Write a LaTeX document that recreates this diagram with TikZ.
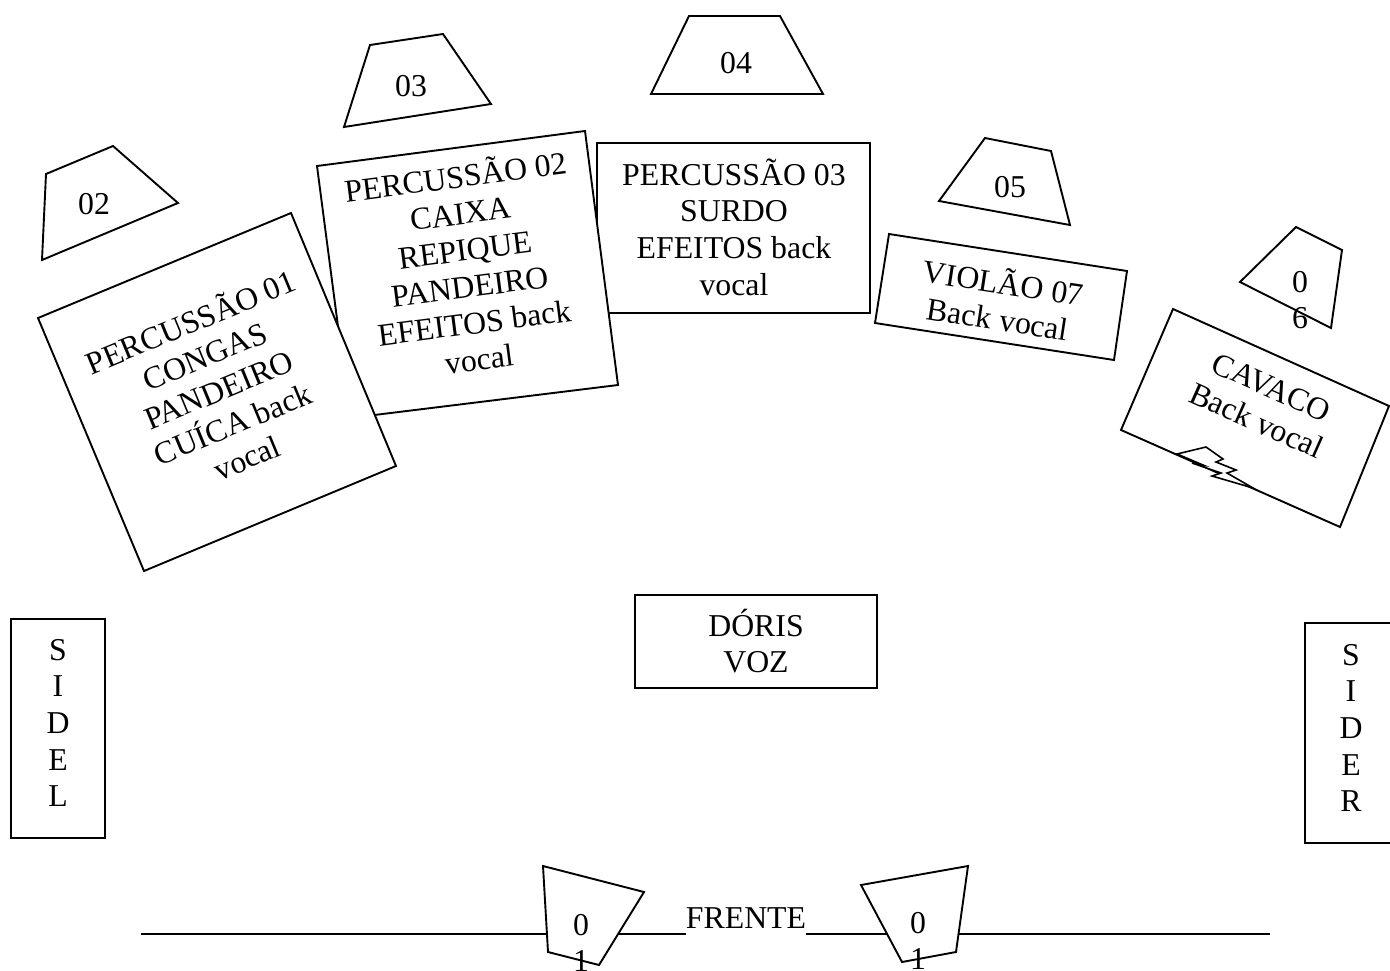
\documentclass[tikz,border=0pt]{standalone}
\usepackage{fontspec}
\setmainfont{Liberation Serif}
\tikzset{
  px/.style={x=1pt,y=-1pt},
  shp/.style={draw=black,fill=white,line width=1.9pt,line join=miter},
  lbl/.style={inner sep=0pt,align=center,text=black,font=\fontsize{31.8}{36.7}\selectfont},
  rule/.style={draw=black,line width=1.6pt}
}
\begin{document}
\begin{tikzpicture}[px]
\useasboundingbox (0,0) rectangle (1390,970);
% front line
\coordinate (la) at (141,934); \coordinate (lb) at (686,934);
\coordinate (lc) at (806,934); \coordinate (ld) at (1270,934);
\draw[rule] (la) -- (lb);
\draw[rule] (lc) -- (ld);
\node[lbl] (frente) at (746,918) {FRENTE};
% monitors
\draw[shp] (46,174) -- (113,146) -- (178,203) -- (42,260) -- cycle;
\node[lbl] (m02) at (94,204) {02};
\draw[shp] (370,45) -- (443,34) -- (491,104) -- (344,127) -- cycle;
\node[lbl] (m03) at (411,86) {03};
\draw[shp] (689,16) -- (780,16) -- (823,94) -- (651,94) -- cycle;
\node[lbl] (m04) at (736,63) {04};
\draw[shp] (985,138) -- (1051,151) -- (1070,225) -- (939,201) -- cycle;
\node[lbl] (m05) at (1010,187) {05};
\draw[shp] (1296,227) -- (1342,250) -- (1331,328) -- (1240,282) -- cycle;
\node[lbl] (m06) at (1300,300) {0\\6};
\draw[shp] (543,866) -- (644,892) -- (599,965) -- (548,952) -- cycle;
\node[lbl] (m01a) at (581,943) {0\\1};
\draw[shp] (861,885) -- (968,866) -- (956,952) -- (902,962) -- cycle;
\node[lbl] (m01b) at (918,941) {0\\1};
% player boxes
\draw[shp] (597,143) rectangle (870,313);
\node[lbl] (p3) at (734,227) {PERCUSSÃO 03\\SURDO\\EFEITOS back\\vocal};
\draw[shp] (317,166) -- (585,131) -- (618,385) -- (350,418) -- cycle;
\node[lbl,rotate=7.4] (p2) at (467,266) {PERCUSSÃO 02\\CAIXA\\REPIQUE\\PANDEIRO\\EFEITOS back\\vocal};
\draw[shp] (38,318) -- (291,213) -- (396,466) -- (144,571) -- cycle;
\node[lbl,rotate=22.5] (p1) at (218,388) {PERCUSSÃO 01\\CONGAS\\PANDEIRO\\CUÍCA back\\vocal};
\draw[shp] (889,234) -- (1127,271) -- (1114,360) -- (875,323) -- cycle;
\node[lbl,rotate=-8.8] (vi) at (1001,299) {VIOLÃO 07\\Back vocal};
\draw[shp] (1173,309) -- (1389,406) -- (1340,527) -- (1121,430) -- cycle;
\node[lbl,rotate=-24] (ca) at (1264,404) {CAVACO\\Back vocal};
% flash
\draw[shp,line width=1.6pt] (1177,454) -- (1206,447) -- (1223,459) -- (1216,462) -- (1236,470) -- (1227,473) -- (1253,488) -- (1212,476) -- (1221,473) -- (1192,463) -- (1203,465) -- cycle;
% voice
\draw[shp] (635,595) rectangle (877,688);
\node[lbl] (dv) at (756,641) {DÓRIS\\VOZ};
% side fills
\draw[shp] (11,619) rectangle (105,838);
\node[lbl] (sl) at (58,723) {S\\I\\D\\E\\L};
\draw[shp] (1305,623) rectangle (1400,843);
\node[lbl] (sr) at (1351,728) {S\\I\\D\\E\\R};
\end{tikzpicture}
\end{document}
